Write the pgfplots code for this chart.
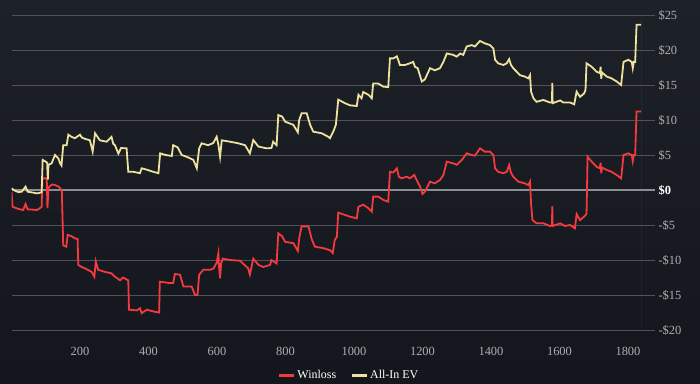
\documentclass[border=0pt]{standalone}
\usepackage{pgfplots}
\pgfplotsset{compat=1.18}
\usepackage{fontspec}
\setmainfont{Liberation Serif}
\definecolor{bgtop}{RGB}{29,33,40}
\definecolor{bgmid}{RGB}{36,40,46}
\definecolor{bgbot}{RGB}{19,22,28}
\definecolor{gridgray}{RGB}{78,82,90}
\definecolor{zerogray}{RGB}{140,142,146}
\definecolor{axisgray}{RGB}{105,109,116}
\definecolor{ticktext}{RGB}{175,175,178}
\definecolor{wlred}{RGB}{244,58,62}
\definecolor{evyellow}{RGB}{238,226,158}
\begin{document}
\begin{tikzpicture}
\useasboundingbox (0,0) rectangle (700bp,384bp);
\shade[top color=bgtop, middle color=bgmid, bottom color=bgbot] (0,0) rectangle (700bp,384bp);
\begin{axis}[
  at={(11.5bp,54bp)}, anchor=south west,
  scale only axis, width=629.5bp, height=315bp,
  xmin=0, xmax=1838, ymin=-20, ymax=25,
  axis line style={draw=none},
  ymajorgrids=true,
  grid style={color=gridgray, line width=0.9bp},
  xtick={200,400,600,800,1000,1200,1400,1600,1800},
  xtick style={draw=none},
  xticklabel pos=lower,
  ytick={-20,-15,-10,-5,5,10,15,20,25},
  yticklabels={-\$20,-\$15,-\$10,-\$5,\$5,\$10,\$15,\$20,\$25},
  yticklabel pos=right,
  ytick pos=right,
  tick align=outside,
  ytick style={color=gridgray, line width=0.9bp},
  major tick length=14bp,
  extra y ticks={0},
  extra y tick labels={\textbf{\$0}},
  extra y tick style={grid style={color=zerogray, line width=1.6bp}, ytick style={color=zerogray, line width=1.6bp}, yticklabel style={text=white}},
  ticklabel style={font=\fontsize{12.5}{14}\selectfont, text=ticktext},
  /pgf/number format/assume math mode=true,
  /pgf/number format/1000 sep={},
  legend columns=2,
  legend style={draw=none, fill=none, text=white, font=\fontsize{12}{14}\selectfont,
    at={(0.536,-0.143)}, anchor=center,
    /tikz/every even column/.append style={column sep=12bp}},
  legend image code/.code={\draw[line width=3bp] (0bp,0bp) -- (15bp,0bp);},
]
\draw[axisgray, line width=1bp] (rel axis cs:1,0) -- (rel axis cs:1,1);
\addplot[wlred, line width=1.8bp] coordinates {
(0,-0.24) (3,-2.4) (20,-2.7) (34,-2.86) (41,-2.0) (47,-2.76) (60,-2.8) (74,-2.86) (83,-2.6) (88,-2.4)
(90,1.6) (100,1.7) (103,1.5) (105,-2.6) (108,0.3) (113,0.6) (120,0.8) (127,0.7) (137,0.5) (142,0.24) (147,-0.2)
(151,-7.9) (160,-8.1) (164,-6.4) (175,-6.6) (185,-6.9) (193,-7.0) (195,-10.7) (205,-11.0) (215,-11.2) (234,-11.7)
(242,-12.4) (246,-10.2) (253,-11.4) (273,-11.7) (292,-11.9) (300,-12.3) (317,-12.9) (325,-12.5) (341,-12.9)
(343,-17.1) (366,-17.2) (375,-16.9) (380,-17.6) (395,-17.1) (419,-17.4) (431,-17.5) (433,-13.1) (448,-13.2)
(463,-13.3) (472,-13.3) (477,-12.0) (492,-12.1) (502,-13.8) (526,-13.8) (536,-15.0) (543,-15.0) (548,-12.1)
(560,-11.4) (580,-11.4) (590,-11.2) (599,-10.4) (604,-9.05) (606,-11.0) (609,-12.6) (612,-10.5) (617,-9.8)
(638,-10.0) (667,-10.1) (691,-11.2) (696,-12.1) (706,-9.8) (721,-10.7) (735,-11.0) (755,-10.7) (759,-10.0)
(774,-10.5) (779,-6.2) (790,-6.6) (799,-7.4) (823,-7.6) (836,-8.7) (840,-6.9) (847,-5.2) (867,-5.2) (877,-7.1)
(886,-8.1) (910,-8.3) (930,-8.6) (938,-9.0) (944,-7.1) (950,-6.7) (954,-3.24) (974,-3.57) (988,-3.8) (1008,-4.05)
(1013,-2.4) (1027,-2.1) (1042,-2.6) (1052,-3.1) (1056,-0.95) (1071,-0.95) (1086,-1.43) (1100,-1.67) (1105,2.6)
(1115,2.5) (1125,3.1) (1131,1.9) (1139,1.67) (1154,1.9) (1163,1.67) (1176,2.14) (1183,1.43) (1193,0.48)
(1200,-0.57) (1207,-0.24) (1222,1.19) (1236,0.95) (1251,1.43) (1261,2.14) (1271,4.05) (1290,3.8) (1300,3.6)
(1315,4.3) (1329,5.24) (1344,5.0) (1353,4.9) (1368,5.95) (1382,5.48) (1397,5.48) (1407,5.0) (1412,3.1)
(1421,2.6) (1436,2.4) (1446,2.6) (1453,3.57) (1458,2.5) (1465,1.9) (1480,1.19) (1499,0.95) (1509,0.7)
(1514,1.19) (1517,-1.9) (1521,-4.3) (1533,-4.76) (1553,-4.76) (1572,-5.14) (1578,-5.1) (1579,-2.3) (1580,-5.14)
(1602,-4.76) (1616,-5.14) (1631,-5.0) (1645,-5.48) (1650,-3.43) (1660,-4.3) (1672,-3.8) (1679,-3.4) (1682,4.76)
(1694,4.05) (1708,3.33) (1718,3.1) (1720,3.9) (1722,2.4) (1724,3.2) (1738,2.86) (1752,2.6) (1767,2.14)
(1780,1.67) (1787,5.0) (1801,5.24) (1811,5.0) (1814,4.1) (1817,5.0) (1821,5.0) (1825,11.2) (1838,11.2)
};
\addlegendentry{Winloss}
\addplot[evyellow, line width=1.8bp] coordinates {
(0,0.24) (10,-0.1) (20,-0.3) (30,-0.24) (41,0.48) (47,-0.24) (60,-0.35) (74,-0.48) (83,-0.4) (88,-0.3)
(91,4.3) (100,4.05) (104,3.9) (106,1.5) (108,3.6) (117,3.8) (127,5.0) (137,4.5) (142,3.8) (146,3.5)
(151,6.4) (161,6.4) (166,7.9) (175,7.6) (185,7.4) (200,7.9) (205,7.5) (215,7.3) (229,7.1) (237,5.5)
(244,8.1) (258,7.1) (278,6.9) (292,7.6) (297,6.6) (302,6.4) (312,5.2) (320,6.0) (336,5.95) (341,2.6)
(356,2.6) (375,2.4) (380,3.1) (395,2.9) (414,2.6) (429,2.4) (434,5.24) (450,5.0) (468,4.86) (472,6.4)
(485,6.1) (497,5.0) (511,4.76) (531,4.3) (541,3.1) (548,5.95) (555,6.67) (574,6.4) (589,6.7) (599,7.6)
(604,6.5) (609,4.76) (614,7.1) (638,6.9) (662,6.67) (682,6.4) (696,5.24) (706,7.14) (721,6.2) (745,5.95)
(759,6.0) (764,6.9) (774,6.4) (779,10.7) (790,10.5) (799,9.76) (823,9.3) (836,8.24) (840,10.0) (847,10.95)
(862,10.95) (872,9.3) (881,8.33) (906,8.1) (925,7.6) (930,7.4) (940,8.4) (947,9.3) (954,12.9) (974,12.4)
(988,12.1) (1008,12.0) (1013,13.6) (1022,13.1) (1027,14.0) (1042,13.6) (1052,13.1) (1056,15.2) (1071,15.2)
(1086,14.76) (1100,14.7) (1105,18.8) (1115,18.8) (1125,19.1) (1129,18.6) (1134,17.86) (1149,17.86) (1163,18.1)
(1173,18.3) (1178,17.6) (1186,17.4) (1198,15.5) (1207,15.8) (1222,17.4) (1236,17.1) (1251,17.4) (1261,18.3)
(1271,19.5) (1290,19.3) (1300,19.05) (1310,19.5) (1319,19.3) (1329,20.5) (1344,20.7) (1353,20.5) (1368,21.3)
(1382,20.95) (1397,20.7) (1407,20.2) (1412,18.6) (1421,18.1) (1436,17.86) (1446,18.1) (1453,18.7) (1458,17.9)
(1465,17.4) (1475,16.9) (1485,16.4) (1499,16.2) (1509,15.95) (1514,16.4) (1517,14.05) (1524,13.1) (1533,12.6)
(1553,12.86) (1572,12.5) (1578,12.5) (1579,15.3) (1580,12.4) (1602,12.8) (1611,12.5) (1631,12.5) (1643,12.24)
(1650,14.05) (1660,13.3) (1672,13.8) (1676,14.3) (1679,18.1) (1694,17.6) (1708,16.9) (1718,16.7) (1720,17.6)
(1722,15.9) (1724,16.8) (1738,16.2) (1752,15.95) (1767,15.5) (1780,15.0) (1787,18.3) (1801,18.6) (1811,18.3)
(1814,17.4) (1817,18.3) (1821,18.3) (1825,23.6) (1838,23.6)
};
\addlegendentry{All-In EV}
\end{axis}
\end{tikzpicture}
\end{document}
